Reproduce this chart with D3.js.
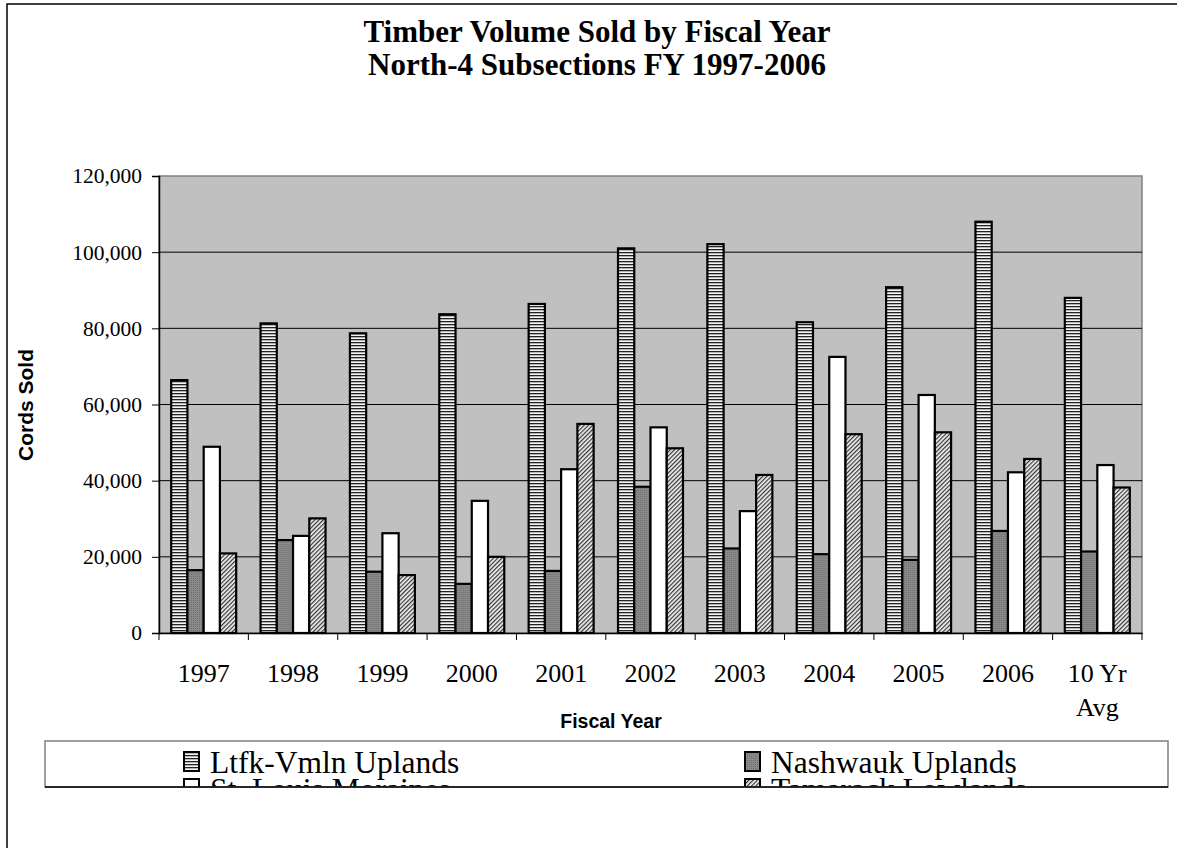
<!DOCTYPE html>
<html>
<head>
<meta charset="utf-8">
<script src="https://cdn.jsdelivr.net/npm/d3@7"></script>
<style>
  body { margin: 0; background: #fff; }
  svg { display: block; }
</style>
</head>
<body>
<script>
// values (cords sold)
var years = ["1997", "1998", "1999", "2000", "2001", "2002", "2003", "2004", "2005", "2006", "10 Yr Avg"];
var seriesNames = ["Ltfk-Vmln Uplands", "Nashwauk Uplands", "St. Louis Moraines", "Tamarack Lowlands"];
var ltfk     = [66400, 81300, 78700, 83700, 86400, 101000, 102100, 81600, 90800, 108000, 88000];
var nashwauk = [16500, 24400, 16100, 12900, 16300, 38400, 22200, 20700, 19200, 26800, 21400];
var stlouis  = [48900, 25500, 26200, 34700, 43000, 54000, 32000, 72500, 62500, 42200, 44100];
var tamarack = [20900, 30100, 15200, 20000, 54900, 48500, 41500, 52200, 52700, 45700, 38200];
var yTicks = [0, 20000, 40000, 60000, 80000, 100000, 120000];

var W = 1177, H = 848;
var plotL = 159, plotR = 1142, plotT = 176, plotB = 633;
var serif = "'Liberation Serif', 'Times New Roman', serif";
var sans = "'Liberation Sans', Arial, sans-serif";

var svg = d3.select("body").append("svg").attr("width", W).attr("height", H);
var defs = svg.append("defs");

// fill patterns like the old excel ones
var p1 = defs.append("pattern").attr("id", "hstripe").attr("patternUnits", "userSpaceOnUse")
  .attr("width", 4).attr("height", 3);
p1.append("rect").attr("width", 4).attr("height", 3).attr("fill", "#f4f4f4");
p1.append("rect").attr("width", 4).attr("height", 1.3).attr("fill", "#222");

var p2 = defs.append("pattern").attr("id", "dots").attr("patternUnits", "userSpaceOnUse")
  .attr("width", 2).attr("height", 2);
p2.append("rect").attr("width", 2).attr("height", 2).attr("fill", "#8a8a8a");
p2.append("rect").attr("width", 1).attr("height", 1).attr("fill", "#6e6e6e");

var p3 = defs.append("pattern").attr("id", "diag").attr("patternUnits", "userSpaceOnUse")
  .attr("width", 3).attr("height", 3).attr("patternTransform", "rotate(45)");
p3.append("rect").attr("width", 3).attr("height", 3).attr("fill", "#f0f0f0");
p3.append("rect").attr("width", 1.2).attr("height", 3).attr("fill", "#333");

var fills = ["url(#hstripe)", "url(#dots)", "#ffffff", "url(#diag)"];

// outer chart border (right and bottom run off the page)
svg.append("rect").attr("x", 7).attr("y", 4).attr("width", W + 20).attr("height", H + 20)
  .attr("fill", "none").attr("stroke", "#000").attr("stroke-width", 1.5);

// title
var title = svg.append("text").attr("text-anchor", "middle")
  .style("font-family", serif).style("font-weight", "bold").style("font-size", "31px");
title.append("tspan").attr("x", 597).attr("y", 42).text("Timber Volume Sold by Fiscal Year");
title.append("tspan").attr("x", 597).attr("y", 75).text("North-4 Subsections FY 1997-2006");

var x = d3.scaleBand().domain(years).range([plotL, plotR]).paddingInner(0).paddingOuter(0);
var bw = x.bandwidth();
var barW = bw / 5.5;
var xs = d3.scaleBand().domain(seriesNames).range([barW * 0.75, bw - barW * 0.75]).padding(0);
var y = d3.scaleLinear().domain([0, 120000]).range([plotB, plotT]);

// plot area
svg.append("rect").attr("x", plotL).attr("y", plotT).attr("width", plotR - plotL).attr("height", plotB - plotT)
  .attr("fill", "#c0c0c0").attr("stroke", "#808080").attr("stroke-width", 1.5);

svg.append("g").selectAll("line").data(yTicks.slice(1, -1)).enter().append("line")
  .attr("x1", plotL).attr("x2", plotR)
  .attr("y1", function (d) { return y(d); }).attr("y2", function (d) { return y(d); })
  .attr("stroke", "#000").attr("stroke-width", 1);

var table = years.map(function (yr, i) {
  return { year: yr, vals: [ltfk[i], nashwauk[i], stlouis[i], tamarack[i]] };
});

var groups = svg.append("g").selectAll("g").data(table).enter().append("g")
  .attr("transform", function (d) { return "translate(" + x(d.year) + ",0)"; });
groups.selectAll("rect").data(function (d) { return d.vals; }).enter().append("rect")
  .attr("x", function (d, i) { return xs(seriesNames[i]); })
  .attr("y", function (d) { return y(d); })
  .attr("width", xs.bandwidth())
  .attr("height", function (d) { return plotB - y(d); })
  .attr("fill", function (d, i) { return fills[i]; })
  .attr("stroke", "#000").attr("stroke-width", 2.2);

// axes
var yAxis = svg.append("g").attr("transform", "translate(" + plotL + ",0)")
  .call(d3.axisLeft(y).tickValues(yTicks).tickFormat(d3.format(",")).tickSize(7).tickPadding(10));
yAxis.selectAll("text").style("font-family", serif).style("font-size", "21.5px").attr("fill", "#000");
yAxis.selectAll(".tick line").attr("stroke", "#000");
yAxis.select(".domain").attr("stroke", "#000").attr("stroke-width", 1.5);

var xAxis = svg.append("g").attr("transform", "translate(0," + plotB + ")")
  .call(d3.axisBottom(x).tickSize(0).tickFormat(""));
xAxis.select(".domain").attr("stroke", "#000").attr("stroke-width", 1.5);
// ticks at the category borders
xAxis.selectAll(".sep").data(years.concat(["end"])).enter().append("line").attr("class", "sep")
  .attr("x1", function (d, i) { return plotL + i * bw; }).attr("x2", function (d, i) { return plotL + i * bw; })
  .attr("y1", 0).attr("y2", 7).attr("stroke", "#000").attr("stroke-width", 1);

var xl = svg.append("g").selectAll("text").data(years).enter().append("text")
  .attr("text-anchor", "middle")
  .style("font-family", serif).style("font-size", "26px");
xl.each(function (d) {
  var t = d3.select(this), cx = x(d) + bw / 2;
  var parts = d.length > 6 ? ["10 Yr", "Avg"] : [d];
  parts.forEach(function (p, j) {
    t.append("tspan").attr("x", cx).attr("y", 682 + j * 34).text(p);
  });
});

// axis titles
svg.append("text").attr("x", 611).attr("y", 728).attr("text-anchor", "middle")
  .style("font-family", sans).style("font-weight", "bold")
  .style("font-size", "19.5px").text("Fiscal Year");
svg.append("text").attr("transform", "translate(33,405) rotate(-90)").attr("text-anchor", "middle")
  .style("font-family", sans).style("font-weight", "bold")
  .style("font-size", "21px").text("Cords Sold");

// legend, clipped like in the original
var lx = 45, ly = 741, lw = 1123, lh = 46;
defs.append("clipPath").attr("id", "legclip").append("rect")
  .attr("x", lx).attr("y", ly).attr("width", lw).attr("height", lh);
var leg = svg.append("g").attr("clip-path", "url(#legclip)");
leg.append("rect").attr("x", lx).attr("y", ly).attr("width", lw).attr("height", lh).attr("fill", "#fff");
var cols = [184, 745];
var items = leg.selectAll("g").data(seriesNames).enter().append("g")
  .attr("transform", function (d, i) { return "translate(" + cols[i % 2] + "," + (752 + Math.floor(i / 2) * 27) + ")"; });
items.append("rect").attr("width", 15).attr("height", 19)
  .attr("fill", function (d, i) { return fills[i]; }).attr("stroke", "#000").attr("stroke-width", 2);
items.append("text").attr("x", 26).attr("y", 21)
  .style("font-family", serif).style("font-size", "31.5px").text(function (d) { return d; });
svg.append("rect").attr("x", lx).attr("y", ly).attr("width", lw).attr("height", lh)
  .attr("fill", "none").attr("stroke", "#808080").attr("stroke-width", 1.5);
svg.append("line").attr("x1", lx).attr("x2", lx + lw).attr("y1", ly + lh).attr("y2", ly + lh)
  .attr("stroke", "#000").attr("stroke-width", 1.5);
</script>
</body>
</html>
